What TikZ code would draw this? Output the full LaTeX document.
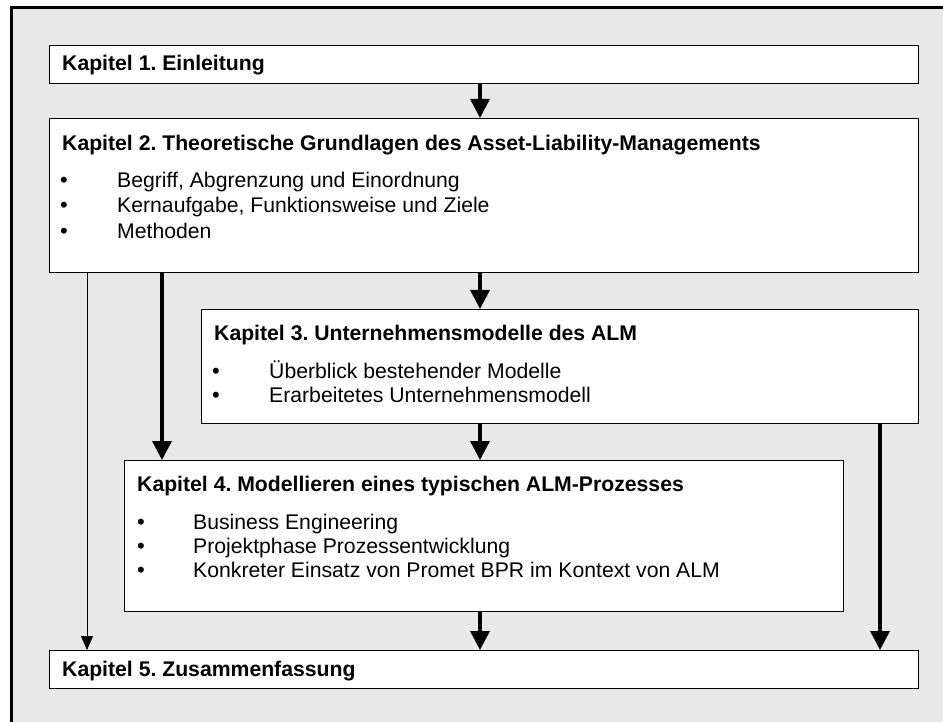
\documentclass[tikz,border=0pt]{standalone}
\usepackage{fontspec}
\setmainfont{Liberation Sans}
\usetikzlibrary{arrows.meta}
\definecolor{panel}{HTML}{E8E8E8}
\tikzset{
  chapbox/.style={draw=black, line width=1pt, fill=white, anchor=north west, inner sep=0pt},
  ttl/.style={anchor=base west, inner sep=0pt, font=\fontsize{21.2}{25}\selectfont\bfseries\frenchspacing},
  itm/.style={anchor=base west, inner sep=0pt, font=\fontsize{21.2}{25}\selectfont\frenchspacing},
  bul/.style={anchor=base, inner sep=0pt, font=\fontsize{22}{25}\selectfont},
  bigarrow/.style={line width=3.5pt, -{Triangle[width=19pt,length=19pt]}},
  thinarrow/.style={line width=1pt, -{Triangle[width=12pt,length=14pt]}}
}
\begin{document}
\begin{tikzpicture}[x=1pt,y=-1pt]
  \useasboundingbox (0,0) rectangle (943,722);
  % grey panel with a heavy frame on the left and top
  \fill[panel] (11.5,7.5) rectangle (960,740);
  \draw[line width=3.5pt] (11.5,740) -- (11.5,7.5) -- (960,7.5);

  % chapter boxes
  \node[chapbox, minimum width=869pt, minimum height=38pt]  (b1) at (49,45)  {};
  \node[chapbox, minimum width=869pt, minimum height=154pt] (b2) at (49,118) {};
  \node[chapbox, minimum width=717pt, minimum height=114pt] (b3) at (201,309) {};
  \node[chapbox, minimum width=719pt, minimum height=151pt] (b4) at (124,460) {};
  \node[chapbox, minimum width=869pt, minimum height=38pt]  (b5) at (49,650) {};

  % box texts
  \node[ttl] (t1) at (62,71) {Kapitel 1. Einleitung};

  \node[ttl] (t2) at (62,151) {Kapitel 2. Theoretische Grundlagen des Asset-Liability-Managements};
  \node[bul] (p21) at (64,188) {•};
  \node[itm] (i21) at (117,188) {Begriff, Abgrenzung und Einordnung};
  \node[bul] (p22) at (64,213) {•};
  \node[itm] (i22) at (117,213) {Kernaufgabe, Funktionsweise und Ziele};
  \node[bul] (p23) at (64,239) {•};
  \node[itm] (i23) at (117,239) {Methoden};

  \node[ttl] (t3) at (214,341) {Kapitel 3. Unternehmensmodelle des ALM};
  \node[bul] (p31) at (216,378) {•};
  \node[itm] (i31) at (269,378) {Überblick bestehender Modelle};
  \node[bul] (p32) at (216,402) {•};
  \node[itm] (i32) at (269,402) {Erarbeitetes Unternehmensmodell};

  \node[ttl] (t4) at (137,491) {Kapitel 4. Modellieren eines typischen ALM-Prozesses};
  \node[bul] (p41) at (141,529) {•};
  \node[itm] (i41) at (193,529) {Business Engineering};
  \node[bul] (p42) at (141,553) {•};
  \node[itm] (i42) at (193,553) {Projektphase Prozessentwicklung};
  \node[bul] (p43) at (141,577) {•};
  \node[itm] (i43) at (193,577) {Konkreter Einsatz von Promet BPR im Kontext von ALM};

  \node[ttl] (t5) at (62,676) {Kapitel 5. Zusammenfassung};

  % connector columns
  \coordinate (cm) at (480,0);
  \coordinate (cl) at (87,0);
  \coordinate (cb) at (162,0);
  \coordinate (cr) at (880,0);

  % connectors
  \draw[bigarrow] (b1.south -| cm) -- (b2.north -| cm);
  \draw[bigarrow] (b2.south -| cm) -- (b3.north -| cm);
  \draw[bigarrow] (b3.south -| cm) -- (b4.north -| cm);
  \draw[bigarrow] (b4.south -| cm) -- (b5.north -| cm);
  \draw[bigarrow] (b2.south -| cb) -- (b4.north -| cb);
  \draw[bigarrow] (b3.south -| cr) -- (b5.north -| cr);
  \draw[thinarrow] (b2.south -| cl) -- (b5.north -| cl);
\end{tikzpicture}
\end{document}
